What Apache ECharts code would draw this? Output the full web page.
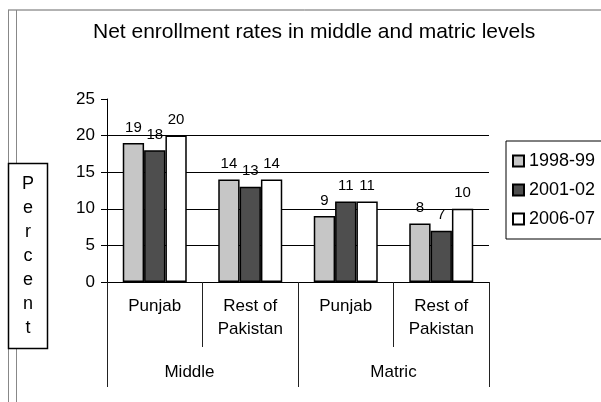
<!DOCTYPE html>
<html><head><meta charset="utf-8">
<script src="https://cdn.jsdelivr.net/npm/echarts@6/dist/echarts.min.js"></script>
<style>html,body{margin:0;padding:0;background:#fff}#c{width:601px;height:402px}</style>
</head><body><div id="c"></div>
<script>
var titleText = 'Net enrollment rates in middle and matric levels';
var subCategories = ['Punjab', 'Rest of\nPakistan', 'Punjab', 'Rest of\nPakistan'];
var groupCategories = ['Middle', 'Matric'];
var seriesNames = ['1998-99', '2001-02', '2006-07'];
var values1998 = [19, 14, 9, 8];
var values2001 = [18, 13, 11, 7];
var values2006 = [20, 14, 11, 10];
var yTicks = {min: 0, max: 25, interval: 5};
var yName = 'Percent';

var FONT = '"Liberation Sans", Arial, sans-serif';
var colors = ['#c6c6c6', '#4e4e4e', '#ffffff'];
var allValues = [values1998, values2001, values2006];

var chart = echarts.init(document.getElementById('c'));
chart.setOption({
  animation: false,
  backgroundColor: '#fff',
  textStyle: {fontFamily: FONT, color: '#000'},
  title: {
    text: titleText, left: 93, top: 22, padding: 0,
    textStyle: {fontFamily: FONT, fontSize: 21, fontWeight: 'normal', color: '#000'}
  },
  legend: {
    orient: 'vertical', left: 506, top: 141,
    padding: [11, 60, 11, 6],
    itemWidth: 11, itemHeight: 11, itemGap: 11,
    borderColor: '#000', borderWidth: 1,
    icon: 'rect',
    textStyle: {fontFamily: FONT, fontSize: 18, color: '#000'},
    data: seriesNames
  },
  grid: {left: 107, right: 112, top: 99, bottom: 120, containLabel: false},
  xAxis: [{
    type: 'category', data: subCategories, position: 'bottom',
    axisLine: {show: true, lineStyle: {color: '#000', width: 1}},
    axisTick: {show: true, length: 65, alignWithLabel: false, interval: 0, lineStyle: {color: '#222', width: 1}},
    axisLabel: {interval: 0, fontFamily: FONT, fontSize: 17, lineHeight: 23, margin: 13, color: '#000'}
  }, {
    type: 'category', data: groupCategories, position: 'bottom', offset: 0,
    axisLine: {show: false},
    axisTick: {show: true, length: 105, alignWithLabel: false, interval: 0, lineStyle: {color: '#222', width: 1}},
    axisLabel: {
      interval: 0, fontFamily: FONT, fontSize: 17, margin: 82, color: '#000',
      formatter: function (v) { return v === 'Middle' ? '{m|' + v + '}' : v; },
      rich: {m: {fontFamily: FONT, fontSize: 17, color: '#000', padding: [0, 26, 0, 0]}}
    }
  }],
  yAxis: {
    type: 'value', min: yTicks.min, max: yTicks.max, interval: yTicks.interval,
    axisLine: {show: true, lineStyle: {color: '#000', width: 1}},
    axisTick: {show: true, length: 6, lineStyle: {color: '#000'}},
    axisLabel: {fontFamily: FONT, fontSize: 17, margin: 12, color: '#000'},
    splitLine: {show: true, lineStyle: {color: ['#000', '#000', '#000', '#000', '#000', 'rgba(0,0,0,0)'], width: 1}}
  },
  graphic: [
    {type: 'line', shape: {x1: 8, y1: 10, x2: 601, y2: 10}, style: {stroke: '#666', lineWidth: 1}},
    {type: 'line', shape: {x1: 8.5, y1: 10, x2: 8.5, y2: 402}, style: {stroke: '#888', lineWidth: 1}},
    {type: 'line', shape: {x1: 16.5, y1: 10, x2: 16.5, y2: 402}, style: {stroke: '#888', lineWidth: 1}},
    {type: 'rect', shape: {x: 8.5, y: 163.5, width: 39, height: 185}, style: {fill: '#fff', stroke: '#000', lineWidth: 1.5}, z: 10},
    {type: 'text', x: 28, y: 256, z: 11, style: {
      text: yName.split('').join('\n'), fontFamily: FONT, fontSize: 18, lineHeight: 24,
      align: 'center', verticalAlign: 'middle', fill: '#000'}}
  ],
  series: seriesNames.map(function (name, i) {
    return {
      name: name, type: 'bar', xAxisIndex: 0, data: allValues[i],
      barGap: '0%', barCategoryGap: '33%',
      itemStyle: {color: colors[i], borderColor: '#000', borderWidth: 1.5},
      label: {show: true, position: 'top', distance: 8, fontFamily: FONT, fontSize: 15, color: '#000'},
      z: 3
    };
  })
});
</script></body></html>
